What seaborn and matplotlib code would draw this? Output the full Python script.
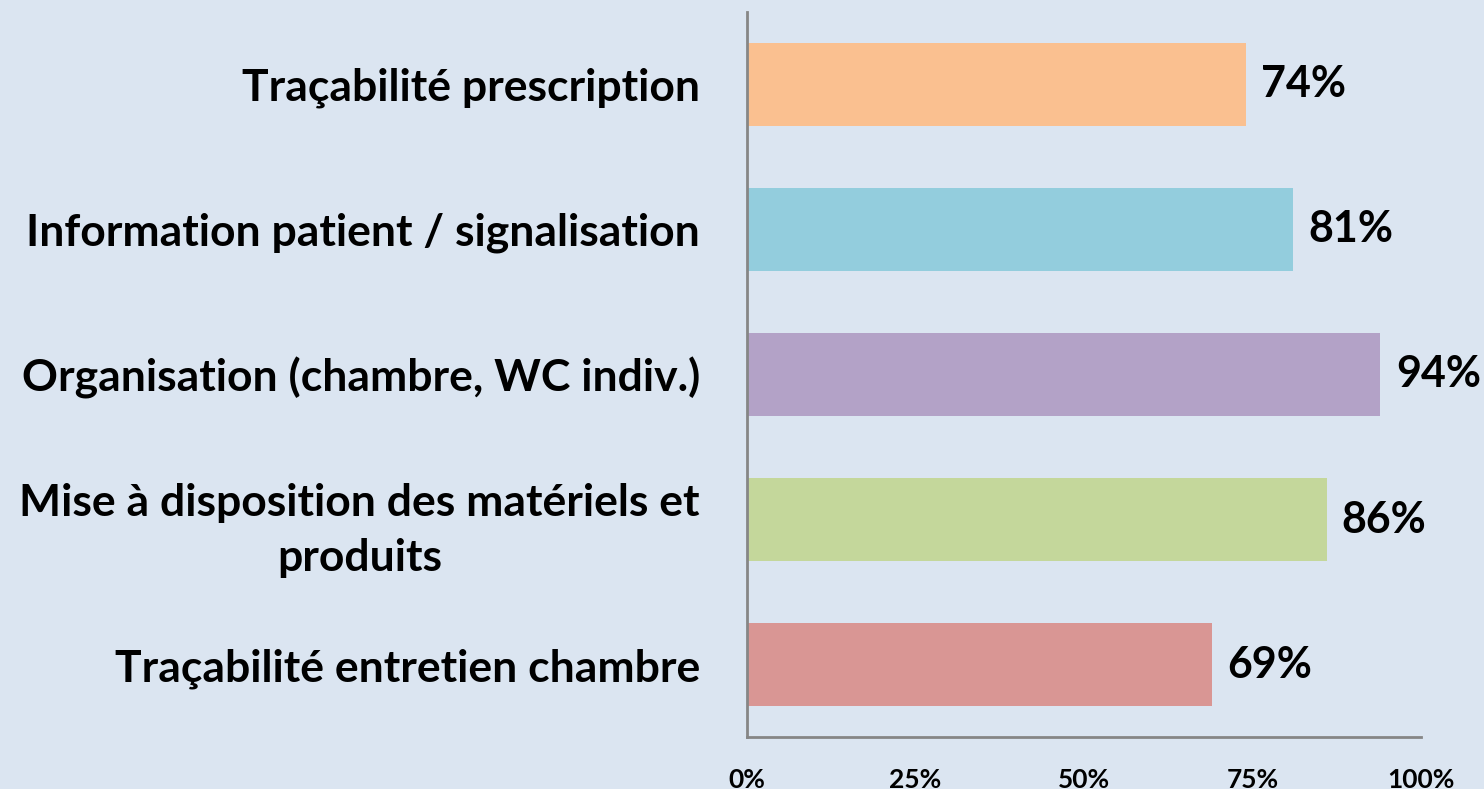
import matplotlib
matplotlib.use("Agg")
import matplotlib.pyplot as plt
import seaborn as sns
import pandas as pd

categories = [
    "Traçabilité prescription",
    "Information patient / signalisation",
    "Organisation (chambre, WC indiv.)",
    "Mise à disposition des matériels et\nproduits",
    "Traçabilité entretien chambre",
]
values = [74, 81, 94, 86, 69]
colors = ["#FAC090", "#93CDDD", "#B3A2C7", "#C4D79B", "#D99694"]
xticks = [0, 25, 50, 75, 100]
xtick_labels = ["0%", "25%", "50%", "75%", "100%"]

bg = "#DBE5F1"
sns.set_theme(style="white")
plt.rcParams["font.family"] = ["Lato", "DejaVu Sans"]

df = pd.DataFrame({"cat": categories, "val": values})

fig = plt.figure(figsize=(14.84, 7.89), dpi=100, facecolor=bg)
ax = fig.add_axes([0.5034, 0.0659, 0.4541, 0.9189])
ax.set_facecolor(bg)

sns.barplot(data=df, x="val", y="cat", hue="cat", palette=colors, legend=False,
            width=0.575, ax=ax, saturation=1, linewidth=0, edgecolor="none")

ax.set_xlim(0, 100)
ax.set_ylim(4.5, -0.5)
ax.set_xticks(xticks)
ax.set_xticklabels(xtick_labels, fontsize=19, fontweight="bold", color="black")
ax.tick_params(axis="x", length=0, pad=22)
ax.tick_params(axis="y", length=0, pad=34)
for lab in ax.get_yticklabels():
    lab.set_fontsize(32)
    lab.set_fontweight("bold")
    lab.set_color("black")
    lab.set_multialignment("center")
    lab.set_linespacing(1.45)
ax.set_xlabel("")
ax.set_ylabel("")

for c in ax.containers:
    ax.bar_label(c, labels=[f"{int(round(v))}%" for v in c.datavalues], padding=11,
                 fontsize=31, fontweight="bold", color="black")

for s in ["top", "right"]:
    ax.spines[s].set_visible(False)
for s in ["left", "bottom"]:
    ax.spines[s].set_color("#868686")
    ax.spines[s].set_linewidth(2)

fig.savefig("out.png", dpi=100, facecolor=bg)
